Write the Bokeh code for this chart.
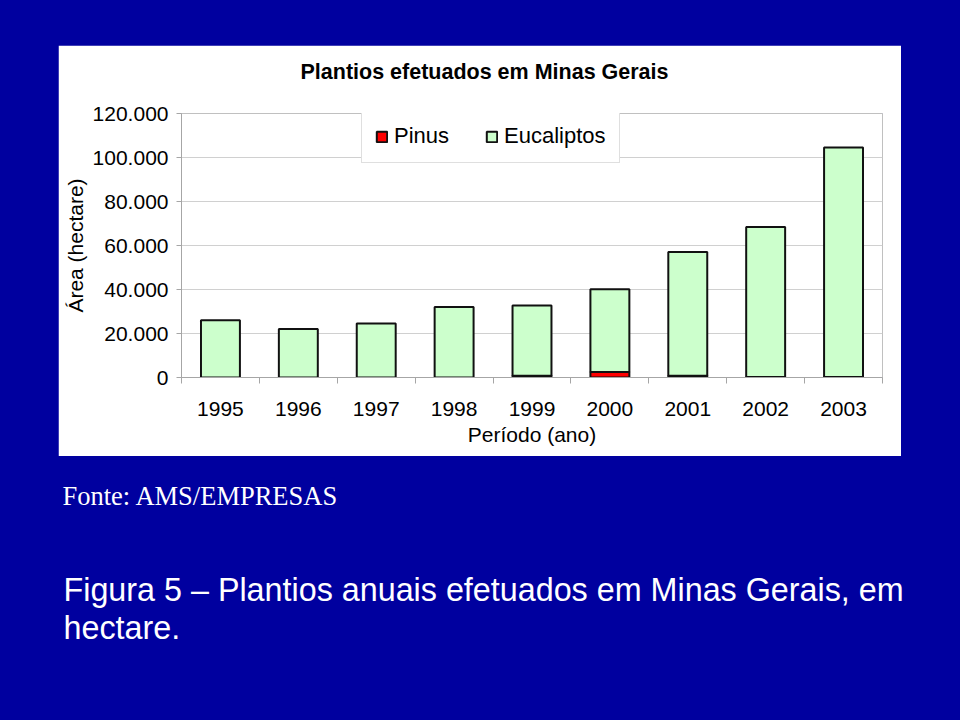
from bokeh.plotting import figure
from bokeh.models import Range1d, FixedTicker, ColumnDataSource, Title
from bokeh.layouts import column
from bokeh.core.properties import value
from bokeh.embed import file_html
from bokeh.resources import INLINE

# ---- data ----
years = ["1995", "1996", "1997", "1998", "1999", "2000", "2001", "2002", "2003"]
pinus = [0, 0, 0, 0, 800, 2500, 800, 200, 200]
eucaliptos = [26000, 22100, 24600, 32100, 31900, 37600, 56200, 68200, 104300]
y_ticks = [0, 20000, 40000, 60000, 80000, 100000, 120000]
y_tick_labels = ["0", "20.000", "40.000", "60.000", "80.000", "100.000", "120.000"]

BLUE = "#00009f"
FONT = "Liberation Sans"

x_pos = [i + 0.5 for i in range(len(years))]
src = ColumnDataSource(dict(x=x_pos, Pinus=pinus, Eucaliptos=eucaliptos))

p = figure(width=843, height=411, x_range=Range1d(0, len(years)), y_range=Range1d(0, 120000),
           output_backend="svg", toolbar_location=None, title=None,
           min_border_left=123, min_border_right=19, min_border_top=68, min_border_bottom=79,
           border_fill_color="white", background_fill_color="white",
           outline_line_color="#c0c0c0", margin=(45, 59, 0, 58))
p.frame_align = False

# spacer title (closest to the frame), then the real title
p.add_layout(Title(text=" ", text_font_size="1px", standoff=27), "above")
p.add_layout(Title(text="Plantios efetuados em Minas Gerais", align="left", offset=119,
                   standoff=0, text_font=FONT, text_font_size="21.5px",
                   text_font_style="bold", text_color="black"), "above")

rs = p.vbar_stack(["Pinus", "Eucaliptos"], x="x", width=0.5, source=src,
                  fill_color=["#ff0000", "#ccffcc"], line_color="#111111", line_width=2,
                  legend_label=["Pinus", "Eucaliptos"])

# y axis
yax = p.yaxis[0]
yax.ticker = FixedTicker(ticks=y_ticks, minor_ticks=[])
yax.major_label_overrides = {t: l for t, l in zip(y_ticks, y_tick_labels)}
yax.axis_label = "Área (hectare)"
yax.axis_label_text_font = FONT
yax.axis_label_text_font_size = "21px"
yax.axis_label_text_font_style = "normal"
yax.axis_label_text_color = "black"
yax.axis_label_standoff = 3
yax.major_label_text_font = FONT
yax.major_label_text_font_size = "21px"
yax.major_label_text_color = "black"
yax.major_label_standoff = 8
yax.major_tick_out = 5
yax.major_tick_in = 0
yax.minor_tick_out = 0
yax.minor_tick_in = 0
yax.axis_line_color = "#a6a6a6"
yax.major_tick_line_color = "#a6a6a6"

# x axis: labels at centers, ticks at boundaries
xax = p.xaxis[0]
xax.ticker = FixedTicker(ticks=x_pos, minor_ticks=[float(i) for i in range(len(years) + 1)])
xax.major_label_overrides = {x: y for x, y in zip(x_pos, years)}
xax.axis_label = "Período (ano)"
xax.axis_label_text_font = FONT
xax.axis_label_text_font_size = "21px"
xax.axis_label_text_font_style = "normal"
xax.axis_label_text_color = "black"
xax.axis_label_standoff = 4
xax.major_label_text_font = FONT
xax.major_label_text_font_size = "21px"
xax.major_label_text_color = "black"
xax.major_label_standoff = 18
xax.major_tick_out = 0
xax.major_tick_in = 0
xax.minor_tick_out = 6
xax.minor_tick_in = 0
xax.minor_tick_line_color = "#a6a6a6"
xax.axis_line_color = "#a6a6a6"

p.xgrid.visible = False
p.ygrid.grid_line_color = "#d0d0d0"

leg = p.legend[0]
leg.orientation = "horizontal"
leg.location = (180, 214)
leg.margin = 0
leg.padding = 13
leg.spacing = 36
leg.label_standoff = 6
leg.glyph_width = 13
leg.glyph_height = 13
leg.label_text_font = FONT
leg.label_text_font_size = "22px"
leg.label_text_color = "black"
leg.border_line_color = "#c0c0c0"
leg.background_fill_color = "white"
leg.background_fill_alpha = 1.0

# footer
foot = figure(width=960, height=264, x_range=Range1d(0, 960), y_range=Range1d(264, 0),
              output_backend="svg", toolbar_location=None, min_border=0, title=None,
              x_axis_location=None, y_axis_location=None,
              border_fill_color=BLUE, background_fill_color=BLUE, outline_line_color=None)
foot.frame_align = False
foot.grid.visible = False
foot.text(x=[62], y=[39.5], text=["Fonte: AMS/EMPRESAS"], text_color="white",
          text_font=value("Liberation Serif"), text_font_size="26.5px", text_baseline="alphabetic")
foot.text(x=[63, 63], y=[133, 171.5],
          text=["Figura 5 – Plantios anuais efetuados em Minas Gerais, em", "hectare."],
          text_color="white", text_font=value(FONT), text_font_size="32.3px",
          text_baseline="alphabetic")

layout = column(p, foot, styles={"background-color": BLUE})

open("out.html", "w").write(file_html(layout, INLINE))
